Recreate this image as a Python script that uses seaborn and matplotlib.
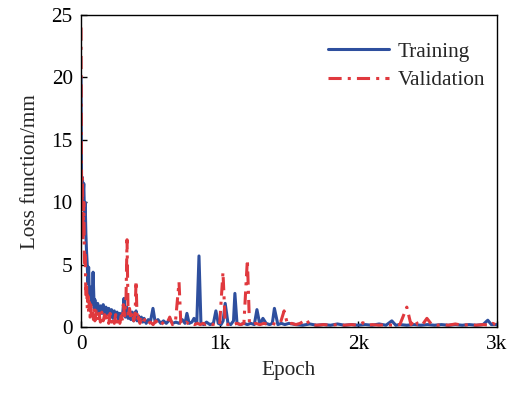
import matplotlib
matplotlib.use("Agg")
import matplotlib.pyplot as plt
import seaborn as sns
import pandas as pd

train_epoch = [0, 3, 6, 10, 15, 20, 25, 30, 35, 40, 45, 50, 55, 60, 70, 80, 87, 95, 100, 110,
               120, 130, 140, 150, 160, 170, 180, 190, 200, 210, 220, 230, 240, 250, 260, 270,
               280, 290, 300, 310, 320, 330, 340, 350, 360, 370, 380, 390, 397, 405, 415, 425,
               435, 445, 455, 470, 485, 500, 519, 535, 555, 575, 595, 615,
               640, 660, 685, 707, 730, 750, 764, 780, 800, 815, 835, 851, 865, 885, 905, 930,
               955, 973, 990, 1010, 1025, 1040, 1060, 1080, 1100, 1110, 1125, 1150, 1175, 1200,
               1225, 1250, 1269, 1290, 1312, 1335, 1360, 1380, 1395, 1420, 1445, 1470, 1500,
               1550, 1600, 1650, 1700, 1750, 1800, 1850, 1900, 1950, 2000, 2050, 2100, 2150,
               2200, 2242, 2270, 2300, 2350, 2400, 2450, 2500, 2550, 2600, 2650, 2700, 2750,
               2800, 2850, 2900, 2934, 2960, 3000]
train_loss = [20, 12, 11.5, 12, 10.5, 11.5, 9, 10, 7.5, 6, 5, 3.5, 4.8, 2.5, 3.2, 1.8, 4.4, 1.5, 2.2, 1.2,
              1.9, 1.0, 1.7, 1.1, 1.8, 0.9, 1.6, 1.0, 1.5, 0.8, 1.4, 0.7, 1.3, 0.8, 1.2, 0.6,
              1.1, 0.7, 1.0, 2.3, 0.8, 1.6, 0.7, 1.4, 0.6, 1.2, 0.5, 0.9, 1.3, 0.5, 0.9, 0.4,
              0.8, 0.4, 0.7, 0.3, 0.6, 0.4, 1.5, 0.4, 0.6, 0.3, 0.5, 0.3,
              0.6, 0.3, 0.4, 0.3, 0.6, 0.3, 1.1, 0.3, 0.4, 0.7, 0.3, 5.7, 0.3, 0.2, 0.4, 0.2,
              0.3, 1.3, 0.3, 0.2, 0.5, 1.9, 0.3, 0.2, 0.5, 2.7, 0.3, 0.2, 0.3, 0.2,
              0.3, 0.2, 1.4, 0.2, 0.7, 0.3, 0.2, 0.3, 1.5, 0.2, 0.3, 0.2, 0.3,
              0.2, 0.15, 0.25, 0.15, 0.2, 0.15, 0.25, 0.15, 0.2, 0.15, 0.2, 0.15, 0.25,
              0.15, 0.5, 0.15, 0.2, 0.15, 0.2, 0.15, 0.2, 0.15, 0.2, 0.15, 0.2, 0.15,
              0.2, 0.15, 0.2, 0.55, 0.2, 0.2]

val_epoch = [0, 3, 6, 10, 15, 20, 25, 30, 35, 40, 45, 50, 55, 60, 65, 70, 75, 80, 90, 95,
             100, 110, 120, 130, 140, 150, 160, 170, 180, 190, 200, 210, 220, 230, 240, 250,
             260, 270, 280, 290, 300, 305, 315, 325, 332, 340, 350, 360, 370, 380, 390, 397,
             405, 415, 425, 435, 445, 460, 480, 500, 520, 540, 560, 580, 600, 620, 640, 660, 680,
             707, 720, 740, 760, 780, 800, 820, 840, 860, 880, 900, 925, 950, 975, 1000, 1024,
             1040, 1060, 1080, 1100, 1125, 1150, 1175, 1200, 1215, 1240, 1260, 1290, 1320,
             1350, 1380, 1410, 1440, 1465, 1490, 1520, 1550, 1580, 1625, 1650, 1700, 1750,
             1800, 1850, 1900, 1950, 2000, 2033, 2070, 2100, 2150, 2200, 2250, 2300, 2350,
             2380, 2408, 2430, 2460, 2495, 2530, 2570, 2600, 2650, 2700, 2750, 2800, 2850,
             2900, 2950, 2970, 3000]
val_loss = [24, 14, 8, 12, 7, 10, 5, 6, 2.5, 3.5, 1.5, 2.5, 1.2, 2.0, 0.8, 1.8, 0.7, 1.4, 0.6, 1.5,
            0.5, 1.3, 0.5, 1.1, 0.4, 1.2, 0.5, 1.0, 0.4, 0.9, 0.3, 1.1, 0.4, 0.8, 0.3, 1.0,
            0.4, 0.7, 0.3, 0.9, 0.5, 1.8, 0.9, 2.5, 7.0, 0.8, 1.5, 0.6, 1.2, 0.5, 1.0, 3.7,
            0.5, 0.8, 0.3, 0.6, 0.3, 0.6, 0.2, 0.4, 0.2, 0.5, 0.2, 0.4, 0.2, 0.3, 0.8, 0.2, 0.3,
            3.6, 0.3, 0.2, 0.4, 0.2, 0.3, 0.2, 0.3, 0.2, 0.3, 0.2, 0.3, 0.2, 0.3, 0.2, 4.4,
            0.3, 0.2, 0.3, 0.2, 0.3, 0.2, 0.3, 5.4, 0.3, 0.2, 0.3, 0.2, 0.3,
            0.2, 0.3, 0.2, 0.4, 1.3, 0.2, 0.3, 0.2, 0.3, 0.6, 0.2, 0.15, 0.2,
            0.15, 0.2, 0.15, 0.2, 0.15, 0.35, 0.15, 0.2, 0.15, 0.2, 0.15, 0.2, 1.6,
            0.2, 0.6, 0.2, 0.15, 0.7, 0.2, 0.15, 0.2, 0.15, 0.25, 0.15, 0.2, 0.15,
            0.2, 0.15, 0.3, 0.15]

x_ticks = [0, 1000, 2000, 3000]
x_ticklabels = ["0", "1k", "2k", "3k"]
y_ticks = [0, 5, 10, 15, 20, 25]

sns.set_theme(style="white")
plt.rcParams["font.family"] = ["Liberation Serif", "DejaVu Serif"]

FS = 15.3

fig = plt.figure(figsize=(5.16, 3.96), dpi=100)
ax = fig.add_axes([0.157, 0.174, 0.806, 0.788])

train_df = pd.DataFrame({"Epoch": train_epoch, "Loss": train_loss})
val_df = pd.DataFrame({"Epoch": val_epoch, "Loss": val_loss})

sns.lineplot(data=train_df, x="Epoch", y="Loss", ax=ax, color="#2e4f9e",
             linewidth=2.2, label="Training")
sns.lineplot(data=val_df, x="Epoch", y="Loss", ax=ax, color="#e0393e",
             linewidth=2.2, linestyle=(0, (4.3, 2, 1, 2)), label="Validation")

ax.set_xlim(0, 3000)
ax.set_ylim(0, 25)
ax.set_xticks(x_ticks)
ax.set_xticklabels(x_ticklabels)
ax.set_yticks(y_ticks)
ax.tick_params(direction="in", length=4, width=1, labelsize=FS, pad=6,
               bottom=True, left=True, top=False, right=False, colors="black")
ax.set_xlabel("Epoch", fontsize=FS, labelpad=5)
ax.set_ylabel("Loss function/mm", fontsize=FS, labelpad=8)
for s in ax.spines.values():
    s.set_color("black")
    s.set_linewidth(1.0)

leg = ax.legend(loc="upper right", frameon=False, fontsize=FS, handlelength=2.9,
                bbox_to_anchor=(1.018, 0.975), labelspacing=0.4, handletextpad=0.4)

fig.savefig("out.png", dpi=100)
